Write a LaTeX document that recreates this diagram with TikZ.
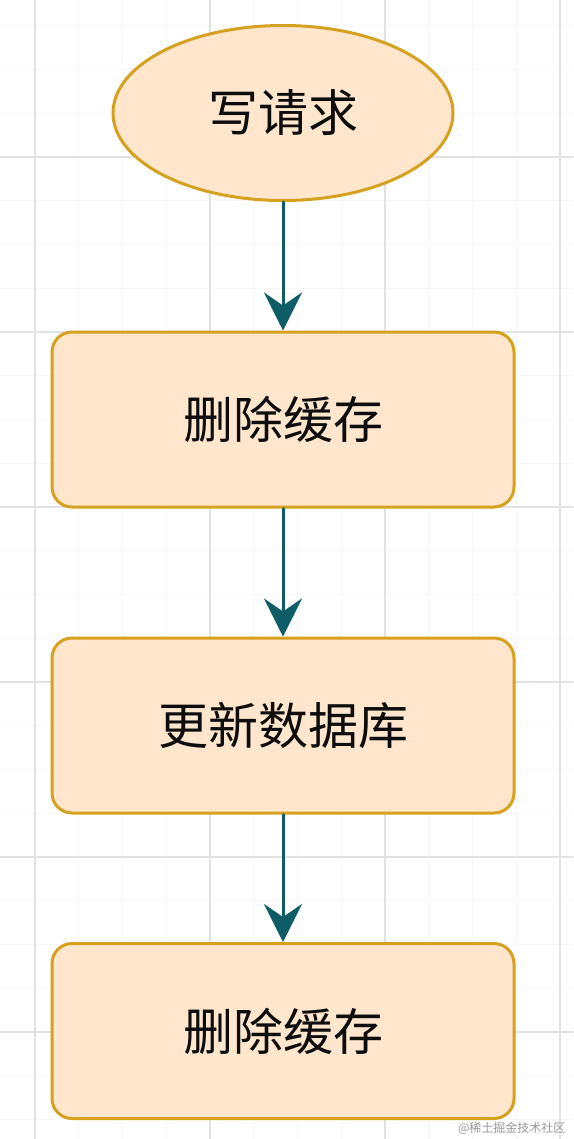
\documentclass[tikz,border=0pt]{standalone}
\usepackage{fontspec}
\newfontfamily\cjk{Noto Sans CJK SC}
\usepackage{tikz}
\usetikzlibrary{arrows.meta}
\usetikzlibrary{shapes.geometric}
\definecolor{boxfill}{HTML}{FFE6CC}
\definecolor{boxline}{HTML}{D6A11F}
\definecolor{flowline}{HTML}{0E5C66}
\definecolor{gridmajor}{HTML}{E2E2E2}
\definecolor{gridminor}{HTML}{F7F7F7}
\tikzset{
  startnode/.style={ellipse,draw=boxline,fill=boxfill,line width=3pt,minimum width=340pt,minimum height=175pt,inner sep=0pt,font=\cjk\fontsize{50}{60}\selectfont,text=black!95},
  stepbox/.style={rectangle,rounded corners=20pt,draw=boxline,fill=boxfill,line width=3pt,minimum width=462pt,minimum height=175pt,inner sep=0pt,font=\cjk\fontsize{50}{60}\selectfont,text=black!95},
  flow/.style={->,draw=flowline,line width=3pt}
}

\begin{document}
\begin{tikzpicture}[line cap=round,line join=round,>={Stealth[length=38pt,width=38pt,inset=13pt]},x=1.0pt,y=-1.0pt]
\useasboundingbox (0,0) rectangle (573,1139);
\fill[white] (0,0) rectangle (573,1139);
% grid
\foreach \k in {0,...,13}
\draw[gridminor,line width=1pt] ({-8.75+\k*43.75},0) -- ({-8.75+\k*43.75},1139);
\foreach \k in {0,...,25}
\draw[gridminor,line width=1pt] (0,{25.75+\k*43.75}) -- (573,{25.75+\k*43.75});
\foreach \x in {35,210,385,560}
\draw[gridmajor,line width=1.5pt] (\x,0) -- (\x,1139);
\foreach \y in {157,332,507,682,857,1032}
\draw[gridmajor,line width=1.5pt] (0,\y) -- (573,\y);
% flow
\node[startnode] (req) at (283,113) {写请求};
\node[stepbox] (del1) at (283,419.5) {删除缓存};
\node[stepbox] (upd) at (283,725.5) {更新数据库};
\node[stepbox] (del2) at (283,1031) {删除缓存};
\draw[flow] (req) -- (del1);
\draw[flow] (del1) -- (upd);
\draw[flow] (upd) -- (del2);
\node[anchor=east,text=black!40,font=\cjk\fontsize{12}{14}\selectfont] (mark) at (569,1128) {@稀土掘金技术社区};
\end{tikzpicture}
\end{document}
